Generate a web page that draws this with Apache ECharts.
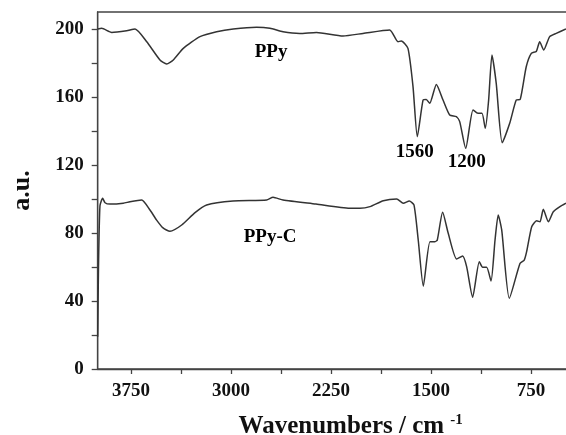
<!DOCTYPE html>
<html>
<head>
<meta charset="utf-8">
<script src="https://cdn.jsdelivr.net/npm/echarts@6/dist/echarts.min.js"></script>
<style>html,body{margin:0;padding:0;background:#fff}#c{width:566px;height:435px}</style>
</head>
<body>
<div id="c"></div>
<script>
// PPy spectrum (wavenumber, a.u.)
var ppyWn  = [4000,3970,3895,3783,3720,3632,3533,3483,3433,3358,3233,3108,2983,2808,2708,2610,2485,2360,2160,2010,1810,1748,1723,1673,1635,1603,1560,1536,1510,1460,1410,1360,1310,1285,1240,1185,1148,1118,1093,1068,1043,1011,966,910,861,831,786,748,711,685,655,610,561,488];
var ppyVal = [200,200.4,198,199,200,192.5,181.8,179.4,181.8,188.6,195.5,198.4,200,201,200.4,198.4,197.4,198,195.9,197.4,199.4,192.5,193,188.6,166,136.7,158.2,158.6,156.3,167.4,158.2,149.4,148.4,145.5,129.8,152.4,150.4,150.4,141.6,158.2,184.7,168,133.1,144.5,158.2,158.6,177.8,185.7,186.8,192.5,187.6,195.5,197.4,200];
// PPy-C spectrum
var ppycWn  = [4000,3994,3983,3963,3945,3908,3808,3758,3670,3608,3558,3510,3458,3370,3270,3183,2985,2733,2685,2610,2363,2110,2033,1958,1858,1758,1708,1663,1628,1596,1558,1508,1470,1453,1413,1371,1308,1263,1233,1188,1138,1113,1083,1050,1020,996,970,913,833,801,783,745,708,683,658,620,583,533,488];
var ppycVal = [19,60,96,100.4,97.8,97,97.5,98.4,99.4,93.5,87.6,83,81,84.7,92,96.5,98.8,99.4,101,99.4,97,94.5,94.5,95.5,99,100,97.5,98.8,96.5,75.9,48.8,74.9,74.9,75.9,92.2,79.8,64.7,66.5,60.2,42.2,63.1,59.8,59.8,51.8,75.9,90.6,81.8,41.6,62.1,64.1,69,83.7,87.2,86.6,93.9,86.6,92.5,95.5,97.5];
// ticks
var xTickValues = [3750,3375,3000,2625,2250,1875,1500,1125,750];
var xLabelValues = [3750,3000,2250,1500,750];
var yTickValues = [0,20,40,60,80,100,120,140,160,180,200];
var yLabelValues = [0,40,80,120,160,200];
// annotations
var annoText = ['PPy','PPy-C','1560','1200'];
var annoWn   = [2700,2707,1622,1232];
var annoVal  = [186.5,77.6,127.8,121.8];

function pairs(a,b){return a.map(function(x,i){return [x,b[i]];});}

var FONT = '"Liberation Serif","Times New Roman",serif';
var chart = echarts.init(document.getElementById('c'), null, {renderer:'canvas'});
var lineColor = '#333';
chart.setOption({
  animation:false,
  backgroundColor:'#fff',
  grid:{left:97.7, top:12, bottom:66, right:-11.7, containLabel:false, outerBoundsMode:'none',
        show:true, borderColor:'#444', borderWidth:1.3, backgroundColor:'transparent'},
  xAxis:{
    type:'value', min:400, max:4000, inverse:true,
    name:'{m|Wavenumbers / cm }{s|-1}',
    nameLocation:'middle', nameGap:44,
    nameTextStyle:{padding:[0,0,0,26], rich:{
      m:{fontFamily:FONT, fontWeight:'bold', fontSize:25, color:'#111'},
      s:{fontFamily:FONT, fontWeight:'bold', fontSize:15, color:'#111', padding:[0,0,12,0]}
    }},
    axisLine:{lineStyle:{color:'#444', width:1.3}},
    axisTick:{show:true, inside:false, length:5, customValues:xTickValues, lineStyle:{color:'#444', width:1.3}},
    axisLabel:{customValues:xLabelValues, margin:13, fontFamily:FONT, fontWeight:'bold', fontSize:19, color:'#111',
               formatter:function(v){return String(v);}},
    splitLine:{show:false}
  },
  yAxis:{
    type:'value', min:0, max:210,
    name:'a.u.', nameLocation:'middle', nameRotate:90, nameGap:62,
    nameTextStyle:{fontFamily:FONT, fontWeight:'bold', fontSize:26, color:'#111'},
    axisLine:{show:true, lineStyle:{color:'#444', width:1.3}},
    axisTick:{show:true, inside:false, length:6, customValues:yTickValues, lineStyle:{color:'#444', width:1.3}},
    axisLabel:{customValues:yLabelValues, margin:14, fontFamily:FONT, fontWeight:'bold', fontSize:19, color:'#111',
               formatter:function(v){return String(v);}},
    splitLine:{show:false}
  },
  series:[
    {name:'PPy', type:'line', data:pairs(ppyWn,ppyVal), showSymbol:false, smooth:0.2, clip:true,
     lineStyle:{color:lineColor, width:1.5}},
    {name:'PPy-C', type:'line', data:pairs(ppycWn,ppycVal), showSymbol:false, smooth:0.2, clip:true,
     lineStyle:{color:lineColor, width:1.5}},
    {name:'labels', type:'scatter', silent:true, symbolSize:0,
     itemStyle:{color:'#000', opacity:1},
     data:annoText.map(function(t,i){return {name:t, value:[annoWn[i],annoVal[i]]};}),
     label:{show:true, position:'inside', fontFamily:FONT, fontWeight:'bold', fontSize:19, color:'#000',
            textBorderWidth:0, formatter:function(p){return p.name;}}}
  ]
});
</script>
</body>
</html>
